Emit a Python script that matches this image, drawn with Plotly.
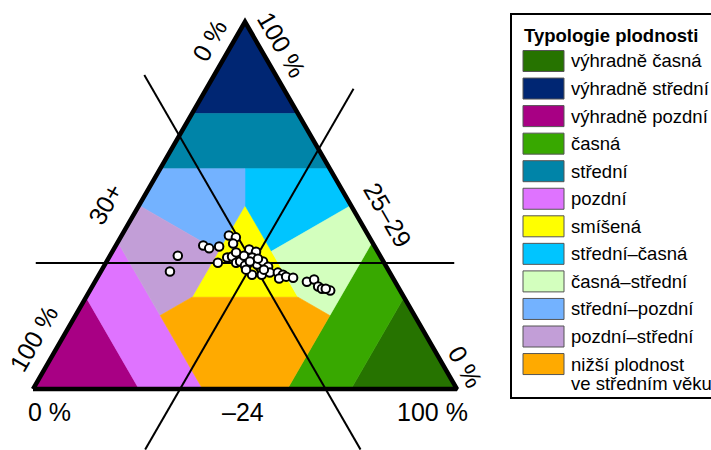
import math
import plotly.graph_objects as go

# Fertility typology regions, vertices as shares (early -24, middle 25-29, late 30+) in %
REGION_NAMES = [
    "výhradně časná", "výhradně střední", "výhradně pozdní",
    "časná", "střední", "pozdní", "smíšená",
    "střední–časná", "časná–střední", "střední–pozdní",
    "pozdní–střední", "nižší plodnost<br>ve středním věku",
]
REGION_COLORS = [
    "#267300", "#002673", "#A80084",
    "#38A800", "#0084A8", "#DF73FF", "#FFFF00",
    "#00C5FF", "#D3FFBE", "#73B2FF",
    "#C29ED7", "#FFAA00",
]
REGION_VERTICES = [
    [(100, 0, 0), (75, 25, 0), (75, 0, 25)],
    [(0, 100, 0), (0, 75, 25), (25, 75, 0)],
    [(0, 0, 100), (25, 0, 75), (0, 25, 75)],
    [(75, 25, 0), (60, 40, 0), (60, 0, 40), (75, 0, 25)],
    [(0, 75, 25), (0, 60, 40), (40, 60, 0), (25, 75, 0)],
    [(25, 0, 75), (40, 0, 60), (0, 40, 60), (0, 25, 75)],
    [(25, 50, 25), (25, 25, 50), (50, 25, 25)],
    [(40, 60, 0), (20, 60, 20), (25, 50, 25), (37.5, 37.5, 25), (50, 50, 0)],
    [(50, 50, 0), (37.5, 37.5, 25), (50, 25, 25), (60, 20, 20), (60, 40, 0)],
    [(0, 60, 40), (0, 50, 50), (25, 37.5, 37.5), (25, 50, 25), (20, 60, 20)],
    [(0, 40, 60), (0, 50, 50), (25, 37.5, 37.5), (25, 25, 50), (20, 20, 60)],
    [(25, 25, 50), (50, 25, 25), (60, 20, 20), (60, 0, 40), (40, 0, 60), (20, 20, 60)],
]

# Observed age structure of fertility (%)
EARLY = [16.0, 16.3, 20.6, 22.4, 24.5, 25.3, 27.2, 27.4, 26.4, 27.9,
         28.9, 30.7, 31.5, 33.2, 32.0, 33.9, 33.8, 36.1, 35.9, 36.9,
         38.4, 38.8, 40.0, 41.9, 43.4, 43.0, 44.4, 46.2, 50.0, 51.4,
         53.3, 54.5, 56.7, 31.6, 33.8, 35.3, 34.0, 38.2, 55.4, 29.3]
MIDDLE = [36.3, 32.0, 39.1, 38.3, 38.8, 41.8, 41.3, 39.6, 34.4, 35.8,
          36.1, 34.4, 34.7, 33.6, 38.0, 37.4, 35.8, 31.1, 33.9, 34.7,
          31.1, 33.3, 31.7, 31.7, 31.1, 30.1, 30.6, 30.3, 29.2, 29.8,
          27.9, 27.3, 26.8, 36.3, 34.7, 35.5, 32.5, 32.5, 27.3, 37.2]
LATE = [47.7, 51.7, 40.3, 39.3, 36.7, 32.9, 31.5, 33.0, 39.2, 36.3,
        35.0, 34.9, 33.8, 33.2, 30.0, 28.7, 30.4, 32.8, 30.2, 28.4,
        30.5, 27.9, 28.3, 26.4, 25.5, 26.9, 25.0, 23.5, 20.8, 18.8,
        18.8, 18.2, 16.5, 32.1, 31.5, 29.2, 33.5, 29.3, 17.3, 33.5]

# Reference point through which the three guide lines pass (%)
REF_POINT = (34.7, 34.3, 31.0)
GUIDE_OVERHANG = 16.5  # how far (in %) guide lines run past the triangle

AXIS_TITLES = ["–24", "25–29", "30+"]

H = math.sqrt(3) / 2


def to_xy(early, middle, late):
    s = early + middle + late
    e, m = early / s, middle / s
    return e + m / 2, m * H


def to_xy_raw(early, middle):
    # projection without normalisation (used for lines that leave the triangle)
    e, m = early / 100.0, middle / 100.0
    return e + m / 2, m * H


fig = go.Figure()

# coloured typology regions
for name, color, verts in zip(REGION_NAMES, REGION_COLORS, REGION_VERTICES):
    pts = [to_xy(*v) for v in verts] + [to_xy(*verts[0])]
    fig.add_trace(go.Scatter(
        x=[p[0] for p in pts], y=[p[1] for p in pts],
        mode="lines", fill="toself", fillcolor=color,
        line=dict(color=color, width=0.6), hoverinfo="skip", showlegend=False,
    ))

# guide lines: one component fixed at the reference value
e0, m0, l0 = REF_POINT
guides = [
    # fixed middle share (horizontal)
    [(-GUIDE_OVERHANG, m0), (100 - m0 + GUIDE_OVERHANG, m0)],
    # fixed early share
    [(e0, 100 - e0 + GUIDE_OVERHANG), (e0, -GUIDE_OVERHANG)],
    # fixed late share
    [(-GUIDE_OVERHANG, 100 - l0 + GUIDE_OVERHANG), (100 - l0 + GUIDE_OVERHANG, -GUIDE_OVERHANG)],
]
for seg in guides:
    pts = [to_xy_raw(*p) for p in seg]
    fig.add_trace(go.Scatter(
        x=[p[0] for p in pts], y=[p[1] for p in pts], mode="lines",
        line=dict(color="black", width=2), hoverinfo="skip", showlegend=False,
    ))

# triangle outline
corners = [(0, 0, 100), (100, 0, 0), (0, 100, 0), (0, 0, 100)]
cpts = [to_xy(*c) for c in corners]
fig.add_trace(go.Scatter(
    x=[p[0] for p in cpts], y=[p[1] for p in cpts], mode="lines",
    line=dict(color="black", width=4.5), hoverinfo="skip", showlegend=False,
))

# observations
obs = [to_xy(e, m, l) for e, m, l in zip(EARLY, MIDDLE, LATE)]
fig.add_trace(go.Scatter(
    x=[p[0] for p in obs], y=[p[1] for p in obs], mode="markers",
    marker=dict(size=8.5, color="white", line=dict(color="black", width=2)),
    showlegend=False,
))

# edge labels
LABEL_FONT = dict(family="Liberation Sans, Arial, sans-serif", size=25, color="black")
annotations = []


def left_edge(t, d):
    return 0.5 * t - H * d, H * t + 0.5 * d


def right_edge(t, d):
    return 1 - 0.5 * t + H * d, H * t + 0.5 * d


for text, (x, y), ang in [
    ("0 %", left_edge(0.921, 0.050), -60),
    (AXIS_TITLES[2], left_edge(0.463, 0.071), -60),
    ("100 %", left_edge(0.105, 0.058), -60),
    ("100 %", right_edge(0.909, 0.048), 60),
    (AXIS_TITLES[1], right_edge(0.437, 0.064), 60),
    ("0 %", right_edge(0.035, 0.044), 60),
    ("0 %", (0.040, -0.054), 0),
    (AXIS_TITLES[0], (0.495, -0.054), 0),
    ("100 %", (0.943, -0.054), 0),
]:
    annotations.append(dict(
        x=x, y=y, xref="x", yref="y", text=text, showarrow=False,
        textangle=ang, font=LABEL_FONT, xanchor="center", yanchor="middle",
    ))

# legend panel
W, HGT = 711, 450
LEG_FONT = dict(family="Liberation Sans, Arial, sans-serif", size=18.5, color="black")
shapes = [dict(
    type="rect", xref="paper", yref="paper",
    x0=511 / W, x1=730 / W, y0=1 - 398 / HGT, y1=1 - 14 / HGT,
    line=dict(color="black", width=2), fillcolor="white", layer="below",
)]
annotations.append(dict(
    x=522 / W, y=1 - 36 / HGT, xref="paper", yref="paper",
    text="<b>Typologie plodnosti</b>", showarrow=False, font=LEG_FONT,
    xanchor="left", yanchor="middle",
))
row0, step, line_gap = 61, 27.55, 19.5
for i, (name, color) in enumerate(zip(REGION_NAMES, REGION_COLORS)):
    cy = row0 + step * i
    shapes.append(dict(
        type="rect", xref="paper", yref="paper",
        x0=523 / W, x1=564 / W, y0=1 - (cy + 10.5) / HGT, y1=1 - (cy - 10.5) / HGT,
        line=dict(color="#555555", width=1), fillcolor=color,
    ))
    for k, part in enumerate(name.split("<br>")):
        annotations.append(dict(
            x=569 / W, y=1 - (cy + line_gap * k) / HGT,
            xref="paper", yref="paper", text=part, showarrow=False,
            font=LEG_FONT, xanchor="left", yanchor="middle",
        ))

fig.update_layout(
    width=W, height=HGT,
    margin=dict(l=0, r=0, t=0, b=0),
    paper_bgcolor="white", plot_bgcolor="white",
    xaxis=dict(range=[-33 / 424, (W - 33) / 424], visible=False, fixedrange=True),
    yaxis=dict(range=[(389 - HGT) / 424, 389 / 424], visible=False, fixedrange=True),
    shapes=shapes, annotations=annotations, showlegend=False,
)

fig.write_html("out.html")
